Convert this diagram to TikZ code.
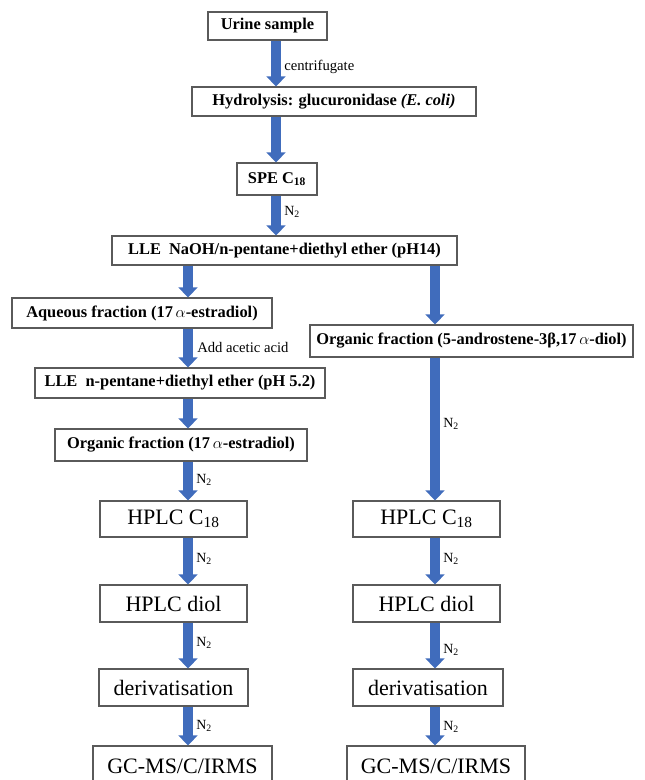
\documentclass[tikz,border=0pt]{standalone}
\usepackage{fontspec}
\setmainfont{Liberation Serif}
\usetikzlibrary{arrows.meta}
\definecolor{arrowblue}{RGB}{64,108,188}
\definecolor{boxgray}{RGB}{90,90,90}
\begin{document}
\begin{tikzpicture}[x=0.75pt,y=-0.75pt,
 box/.style={draw=boxgray, line width=0.8pt, fill=white, inner sep=0pt, align=center},
 upbox/.style={box, font=\bfseries\fontsize{12.3}{14}\selectfont},
 lowbox/.style={box, font=\fontsize{16.5}{18}\selectfont},
 flow/.style={draw=arrowblue, line width=7pt, -{Triangle[width=14pt,length=7.5pt]}},
 lab/.style={font=\fontsize{11}{12}\selectfont, anchor=west, inner sep=0pt},
 nlab/.style={font=\fontsize{10.5}{12}\selectfont, anchor=west, inner sep=0pt},
]
\useasboundingbox (0,0) rectangle (644,780);
\clip (0,0) rectangle (644,780);

\coordinate (xt) at (276,0);
\coordinate (xl) at (188,0);
\coordinate (xr) at (435,0);

\node[upbox, minimum width=89.25pt, minimum height=21pt] (urine) at (267.5,26) {Urine sample};
\node[upbox, minimum width=213pt, minimum height=21.75pt] (hydro) at (334,101.5) {Hydrolysis: glucuronidase \textit{(E. coli)}};
\node[upbox, minimum width=60pt, minimum height=24pt] (spe) at (277,179) {SPE C\textsubscript{18}};
\node[upbox, minimum width=258.75pt, minimum height=21.75pt] (lle1) at (284.5,250.5) {LLE\ \ NaOH/n-pentane+diethyl ether (pH14)};
\node[upbox, minimum width=195pt, minimum height=22.5pt] (aq) at (142,313) {Aqueous fraction (17\,$\alpha$-estradiol)};
\node[upbox, minimum width=217.5pt, minimum height=22.5pt] (lle2) at (180,383) {LLE\ \ n-pentane+diethyl ether (pH 5.2)};
\node[upbox, minimum width=189pt, minimum height=24pt] (org1) at (181,445) {Organic fraction (17\,$\alpha$-estradiol)};
\node[upbox, minimum width=242.25pt, minimum height=24pt] (org2) at (471.5,341) {Organic fraction (5-androstene-3β,17\,$\alpha$-diol)};

\node[lowbox, minimum width=110.25pt, minimum height=27pt] (hplcL) at (173.5,519) {HPLC C\textsubscript{18}};
\node[lowbox, minimum width=110.25pt, minimum height=27.75pt] (diolL) at (173.5,603.5) {HPLC diol};
\node[lowbox, minimum width=111.75pt, minimum height=27.75pt] (derL) at (173.5,687.5) {derivatisation};
\node[lowbox, minimum width=134.25pt, minimum height=30pt] (gcL) at (182.5,766) {GC-MS/C/IRMS};

\node[lowbox, minimum width=110.25pt, minimum height=27pt] (hplcR) at (426.5,519) {HPLC C\textsubscript{18}};
\node[lowbox, minimum width=110.25pt, minimum height=27.75pt] (diolR) at (426.5,603.5) {HPLC diol};
\node[lowbox, minimum width=112.5pt, minimum height=27.75pt] (derR) at (428,687.5) {derivatisation};
\node[lowbox, minimum width=133.5pt, minimum height=30pt] (gcR) at (436,766) {GC-MS/C/IRMS};

\draw[flow] (urine.south -| xt) -- (hydro.north -| xt);
\draw[flow] (hydro.south -| xt) -- (spe.north -| xt);
\draw[flow] (spe.south -| xt) -- (lle1.north -| xt);
\draw[flow] (lle1.south -| xl) -- (aq.north -| xl);
\draw[flow] (lle1.south -| xr) -- (org2.north -| xr);
\draw[flow] (aq.south -| xl) -- (lle2.north -| xl);
\draw[flow] (lle2.south -| xl) -- (org1.north -| xl);
\draw[flow] (org1.south -| xl) -- (hplcL.north -| xl);
\draw[flow] (hplcL.south -| xl) -- (diolL.north -| xl);
\draw[flow] (diolL.south -| xl) -- (derL.north -| xl);
\draw[flow] (derL.south -| xl) -- (gcL.north -| xl);
\draw[flow] (org2.south -| xr) -- (hplcR.north -| xr);
\draw[flow] (hplcR.south -| xr) -- (diolR.north -| xr);
\draw[flow] (diolR.south -| xr) -- (derR.north -| xr);
\draw[flow] (derR.south -| xr) -- (gcR.north -| xr);

\node[lab] (l1) at (284,67) {centrifugate};
\node[nlab] (l2) at (284,212) {N\textsubscript{2}};
\node[lab] (l3) at (197,347) {Add acetic acid};
\node[nlab] (l4) at (196,480) {N\textsubscript{2}};
\node[nlab] (l5) at (196,559) {N\textsubscript{2}};
\node[nlab] (l6) at (196,643) {N\textsubscript{2}};
\node[nlab] (l7) at (196,726) {N\textsubscript{2}};
\node[nlab] (l8) at (443,424) {N\textsubscript{2}};
\node[nlab] (l9) at (443,559) {N\textsubscript{2}};
\node[nlab] (l10) at (443,650) {N\textsubscript{2}};
\node[nlab] (l11) at (443,727) {N\textsubscript{2}};
\end{tikzpicture}
\end{document}
